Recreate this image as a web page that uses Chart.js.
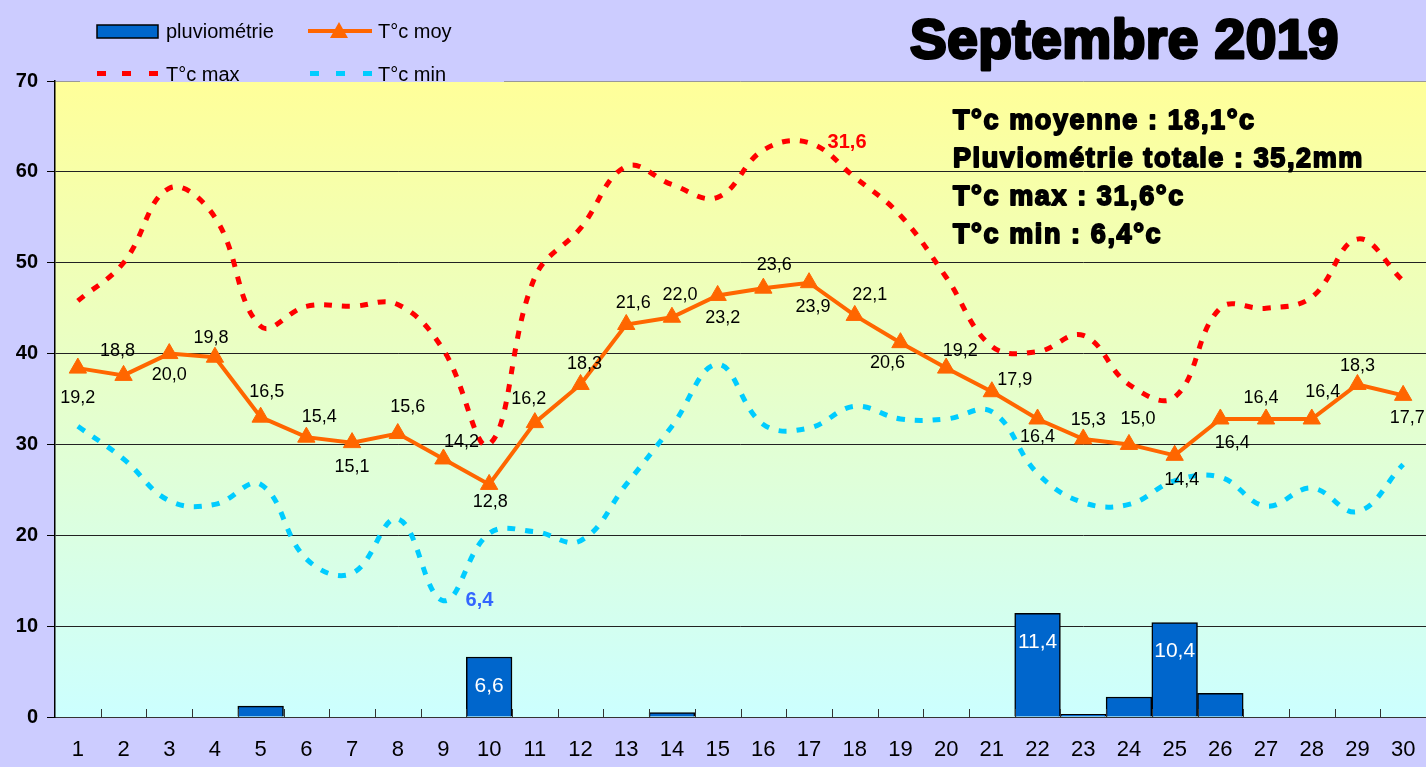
<!DOCTYPE html>
<html>
<head>
	<meta charset="utf-8">
	<title>Septembre 2019</title>
	<style>
		html, body { margin: 0; padding: 0; background: #CCCCFF; overflow: hidden; }
		#wrap { width: 1426px; height: 767px; position: relative; }
		canvas { display: block; }
	</style>
</head>
<body>
	<div id="wrap">
		<canvas id="meteoChart" width="1426" height="767"></canvas>
	</div>

	<script src="https://cdn.jsdelivr.net/npm/chart.js@4.4.0/dist/chart.umd.min.js"></script>
	<script type="text/javascript">
		// donnees du mois
		const jours = ['1','2','3','4','5','6','7','8','9','10','11','12','13','14','15',
			'16','17','18','19','20','21','22','23','24','25','26','27','28','29','30'];
		const pluvio = [0, 0, 0, 0, 1.2, 0, 0, 0, 0, 6.6, 0, 0, 0, 0.5, 0,
			0, 0, 0, 0, 0, 0, 11.4, 0.3, 2.2, 10.4, 2.6, 0, 0, 0, 0];
		const tMoy = [19.2, 18.8, 20.0, 19.8, 16.5, 15.4, 15.1, 15.6, 14.2, 12.8, 16.2, 18.3, 21.6, 22.0, 23.2,
			23.6, 23.9, 22.1, 20.6, 19.2, 17.9, 16.4, 15.3, 15.0, 14.4, 16.4, 16.4, 16.4, 18.3, 17.7];
		const tMax = [22.9, 25.0, 29.1, 27.5, 21.5, 22.6, 22.6, 22.7, 20.2, 15.0, 24.2, 26.9, 30.3, 29.3, 28.6,
			31.2, 31.6, 29.7, 27.6, 24.2, 20.4, 20.1, 21.0, 18.3, 17.6, 22.5, 22.5, 23.1, 26.3, 24.0];
		const tMin = [16.0, 14.2, 11.9, 11.7, 12.8, 8.7, 7.9, 10.9, 6.4, 10.1, 10.2, 9.7, 12.8, 16.0, 19.4,
			16.1, 15.9, 17.1, 16.4, 16.4, 16.8, 13.4, 11.8, 11.7, 13.0, 13.2, 11.6, 12.6, 11.3, 13.9];
		const yTicks = [0, 10, 20, 30, 40, 50, 60, 70];

		// decalage des etiquettes de T moy (dx, dy) par rapport au point
		const moyLabelOffsets = [[0,30],[-6,-24],[0,21],[-4,-19],[6,-25],[13,-20],[0,24],[10,-26],[18,-17],[1,18],
			[-6,-24],[4,-20],[7,-21],[8,-22],[5,23],[11,-23],[4,24],[15,-20],[-13,20],[14,-17],
			[23,-12],[0,18],[5,-19],[9,-25],[7,25],[12,24],[-5,-21],[11,-27],[0,-18],[4,23]];

		const FONT = "'Liberation Sans', Arial, sans-serif";
		const fmt = v => v.toFixed(1).replace('.', ',');

		const fond = {
			id: 'fond',
			beforeDraw(chart) {
				const c = chart.ctx, a = chart.chartArea;
				c.save();
				c.fillStyle = '#CCCCFF';
				c.fillRect(0, 0, chart.width, chart.height);
				const g = c.createLinearGradient(0, a.top, 0, a.bottom);
				g.addColorStop(0, '#FFFF99');
				g.addColorStop(1, '#CCFFFF');
				c.fillStyle = g;
				c.fillRect(a.left, a.top, a.right - a.left, a.bottom - a.top);
				c.restore();
			}
		};

		const decor = {
			id: 'decor',
			afterDraw(chart) {
				const c = chart.ctx, a = chart.chartArea;
				const xs = chart.scales.x;
				c.save();

				// petites graduations de l'axe X (vers l'interieur) et jours
				c.strokeStyle = '#333';
				c.lineWidth = 1;
				const step = (a.right - a.left) / jours.length;
				for (let i = 1; i < jours.length; i++) {
					const x = Math.round(a.left + i * step) + 0.5;
					c.beginPath();
					c.moveTo(x, a.bottom);
					c.lineTo(x, a.bottom - 8);
					c.stroke();
				}
				c.fillStyle = '#000';
				c.font = '22px ' + FONT;
				c.textAlign = 'center';
				c.textBaseline = 'middle';
				jours.forEach((j, i) => c.fillText(j, xs.getPixelForTick(i), 750));

				// etiquettes T moy
				const mMoy = chart.getDatasetMeta(3);
				c.font = '18px ' + FONT;
				mMoy.data.forEach((pt, i) => {
					const o = moyLabelOffsets[i];
					c.fillText(fmt(tMoy[i]), pt.x + o[0], pt.y + o[1]);
				});

				// etiquettes pluie
				const mPl = chart.getDatasetMeta(0);
				c.fillStyle = '#FFFFFF';
				c.font = '21px ' + FONT;
				mPl.data.forEach((bar, i) => {
					if (pluvio[i] >= 5) c.fillText(fmt(pluvio[i]), bar.x, bar.y + 29);
				});

				// max / min du mois
				const iMax = tMax.indexOf(Math.max(...tMax));
				const iMin = tMin.indexOf(Math.min(...tMin));
				const pMax = chart.getDatasetMeta(1).data[iMax];
				const pMin = chart.getDatasetMeta(2).data[iMin];
				c.font = 'bold 20px ' + FONT;
				c.fillStyle = '#FF0000';
				c.fillText(fmt(tMax[iMax]), pMax.x + 38, pMax.y);
				c.fillStyle = '#3366FF';
				c.fillText(fmt(tMin[iMin]), pMin.x + 36, pMin.y);

				// legende
				c.fillStyle = '#CCCCFF';
				c.fillRect(80, 0, 424, 82);
				c.fillStyle = '#0066CC';
				c.fillRect(97, 25, 61, 13);
				c.strokeStyle = '#000';
				c.lineWidth = 1.5;
				c.strokeRect(97, 25, 61, 13);
				c.strokeStyle = '#FF6600';
				c.lineWidth = 4;
				c.beginPath(); c.moveTo(308, 31); c.lineTo(372, 31); c.stroke();
				c.fillStyle = '#FF6600';
				c.beginPath(); c.moveTo(339, 22); c.lineTo(348, 38); c.lineTo(330, 38); c.closePath(); c.fill();
				c.fillStyle = '#FF0000';
				[97, 122, 149].forEach(x => c.fillRect(x, 71, 9, 5));
				c.fillStyle = '#00CCFF';
				[310, 336, 363].forEach(x => c.fillRect(x, 71, 9, 5));
				c.fillStyle = '#000';
				c.font = '20px ' + FONT;
				c.textAlign = 'left';
				c.fillText('pluviométrie', 166, 32);
				c.fillText('T°c moy', 378, 32);
				c.fillText('T°c max', 166, 75);
				c.fillText('T°c min', 378, 75);

				// titre
				c.font = 'bold 55px ' + FONT;
				c.letterSpacing = '0.5px';
				c.lineWidth = 3;
				c.strokeStyle = '#000';
				c.lineJoin = 'round';
				c.fillText('Septembre 2019', 910, 43);
				c.strokeText('Septembre 2019', 910, 43);

				// resume
				const moy = tMoy.reduce((s, v) => s + v, 0) / tMoy.length;
				const tot = pluvio.reduce((s, v) => s + v, 0);
				const lignes = [
					'T°c moyenne : ' + fmt(moy) + '°c',
					'Pluviométrie totale : ' + fmt(tot) + 'mm',
					'T°c max : ' + fmt(tMax[iMax]) + '°c',
					'T°c min : ' + fmt(tMin[iMin]) + '°c'
				];
				c.font = 'bold 27px ' + FONT;
				c.letterSpacing = '1.6px';
				c.lineWidth = 1.8;
				lignes.forEach((t, i) => {
					c.fillText(t, 953, 122 + i * 38);
					c.strokeText(t, 953, 122 + i * 38);
				});
				c.restore();
			}
		};

		const ctx = document.getElementById('meteoChart').getContext('2d');
		const chart = new Chart(ctx, {
			type: 'bar',
			data: {
				labels: jours,
				datasets: [
					{
						type: 'bar',
						label: 'pluviométrie',
						data: pluvio,
						yAxisID: 'y',
						backgroundColor: '#0066CC',
						borderColor: '#000000',
						borderWidth: 1.5,
						borderSkipped: 'bottom',
						barPercentage: 1,
						categoryPercentage: 1,
						order: 4
					},
					{
						type: 'line',
						label: 'T°c max',
						data: tMax,
						yAxisID: 'yT',
						borderColor: '#FF0000',
						borderWidth: 5,
						borderDash: [8, 10],
						pointRadius: 0,
						tension: 0.4,
						fill: false,
						order: 3
					},
					{
						type: 'line',
						label: 'T°c min',
						data: tMin,
						yAxisID: 'yT',
						borderColor: '#00CCFF',
						borderWidth: 5,
						borderDash: [8, 10],
						pointRadius: 0,
						tension: 0.4,
						fill: false,
						order: 2
					},
					{
						type: 'line',
						label: 'T°c moy',
						data: tMoy,
						yAxisID: 'yT',
						borderColor: '#FF6600',
						backgroundColor: '#FF6600',
						borderWidth: 4,
						pointStyle: 'triangle',
						pointRadius: 10,
						pointBorderWidth: 1,
						tension: 0,
						fill: false,
						order: 1
					}
				]
			},
			options: {
				responsive: false,
				animation: false,
				devicePixelRatio: 1,
				layout: { autoPadding: false, padding: { top: 81, right: 0, left: 0, bottom: 0 } },
				plugins: {
					legend: { display: false },
					tooltip: { enabled: false },
					title: { display: false }
				},
				scales: {
					x: {
						afterFit: s => { s.height = 50; },
						grid: { display: false },
						border: { display: true, color: '#333', width: 1 },
						ticks: { display: false }
					},
					y: {
						min: 0,
						max: 70,
						afterFit: s => { s.width = 55; },
						afterBuildTicks: s => { s.ticks = yTicks.map(v => ({ value: v })); },
						grid: {
							color: ctx => ctx.tick && ctx.tick.value === 70 ? '#999' : '#222',
							lineWidth: 1,
							tickLength: 8,
							tickColor: '#000'
						},
						border: { display: true, color: '#000', width: 1.5 },
						ticks: {
							color: '#000',
							font: { size: 20, weight: 'bold', family: FONT },
							padding: 9
						}
					},
					yT: {
						min: 0,
						max: 35,
						display: false
					}
				}
			},
			plugins: [fond, decor]
		});
	</script>
</body>
</html>
